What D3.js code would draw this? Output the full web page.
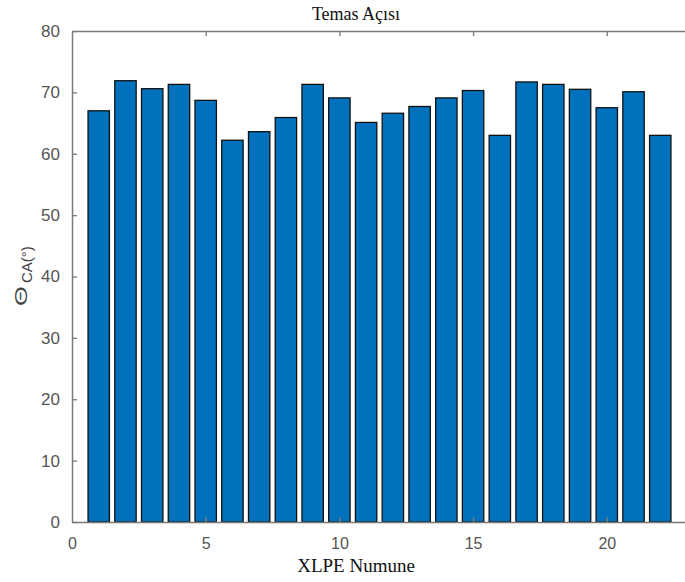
<!DOCTYPE html>
<html>
<head>
<meta charset="utf-8">
<script src="https://cdn.jsdelivr.net/npm/d3@7"></script>
<style>
html,body{margin:0;padding:0;background:#fff;}
svg{display:block;}
</style>
</head>
<body>
<script>
const samples = [1,2,3,4,5,6,7,8,9,10,11,12,13,14,15,16,17,18,19,20,21,22];
const values = [67.0,71.9,70.6,71.3,68.7,62.2,63.6,65.9,71.3,69.1,65.1,66.6,67.7,69.1,70.3,63.0,71.7,71.3,70.5,67.5,70.1,63.0];
const xTicks = [0,5,10,15,20];
const yTicks = [0,10,20,30,40,50,60,70,80];
const titleText = "Temas Açısı";
const xLabelText = "XLPE Numune";

const W = 685, H = 582;
const svg = d3.select("body").append("svg").attr("width", W).attr("height", H);

const x = d3.scaleLinear().domain([0, 23]).range([72, 687]);
const y = d3.scaleLinear().domain([0, 80]).range([522, 31]);
const barW = 0.8;

// bars
svg.append("g").selectAll("rect").data(samples).join("rect")
  .attr("x", (d) => x(d - barW / 2))
  .attr("width", (d) => x(d + barW / 2) - x(d - barW / 2))
  .attr("y", (d, i) => y(values[i]))
  .attr("height", (d, i) => y(0) - y(values[i]))
  .attr("fill", "#0072BD")
  .attr("stroke", "#111")
  .attr("stroke-width", 1.3);

const axisColor = "#7a7a7a";
const labelColor = "#555";

// bottom axis
const gB = svg.append("g").attr("transform", `translate(0,${y(0)})`)
  .call(d3.axisBottom(x).tickValues(xTicks).tickSizeInner(-5).tickSizeOuter(0).tickPadding(16));
// left axis
const gL = svg.append("g").attr("transform", `translate(${x(0)},0)`)
  .call(d3.axisLeft(y).tickValues(yTicks).tickSizeInner(-5).tickSizeOuter(0).tickPadding(12));
// top axis
const gT = svg.append("g").attr("transform", `translate(0,${y(80)})`)
  .call(d3.axisTop(x).tickValues(xTicks).tickSizeInner(-5).tickSizeOuter(0).tickFormat(""));

[gB, gL, gT].forEach(g => {
  g.select(".domain").attr("stroke", axisColor).attr("stroke-width", 1.5);
  g.selectAll(".tick line").attr("stroke", axisColor).attr("stroke-width", 1.3);
  g.selectAll(".tick text")
    .attr("fill", labelColor)
    .style("font-family", "'Liberation Sans', Arial, sans-serif")
    .style("font-size", "17px");
});
gB.selectAll(".tick text").style("font-size", "16px");
gT.selectAll(".tick").filter(d => d === 0).remove();
gB.selectAll(".tick line").filter(d => d === 0).remove();

// title
svg.append("text")
  .attr("x", 356).attr("y", 20)
  .attr("text-anchor", "middle")
  .style("font-family", "'Liberation Serif', 'Times New Roman', serif")
  .style("font-size", "18px")
  .attr("fill", "#111")
  .text(titleText);

// x label
svg.append("text")
  .attr("x", 356).attr("y", 572)
  .attr("text-anchor", "middle")
  .style("font-family", "'Liberation Serif', 'Times New Roman', serif")
  .style("font-size", "19px")
  .attr("fill", "#111")
  .text(xLabelText);

// y label (Theta + subscript CA(°))
svg.append("text")
  .attr("transform", "translate(27,306) rotate(-90) scale(1.5,1)")
  .attr("text-anchor", "start")
  .style("font-family", "'Liberation Sans', Arial, sans-serif")
  .style("font-size", "17px")
  .attr("fill", "#444")
  .text("Θ");
svg.append("text")
  .attr("transform", "translate(32,283) rotate(-90)")
  .attr("text-anchor", "start")
  .style("font-family", "'Liberation Sans', Arial, sans-serif")
  .style("font-size", "15px")
  .attr("fill", "#444")
  .text("CA(°)");
</script>
</body>
</html>
